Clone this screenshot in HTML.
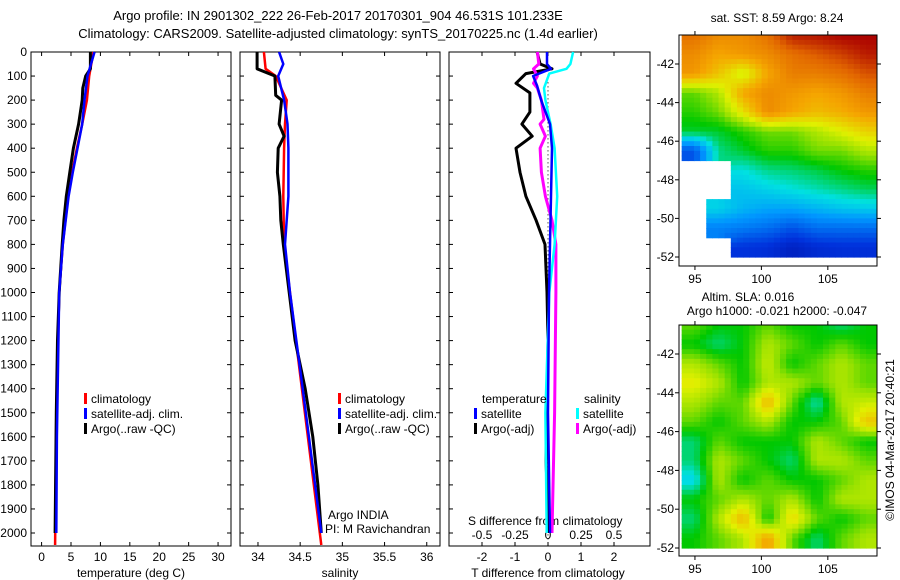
<!DOCTYPE html>
<html><head><meta charset="utf-8"><style>
html,body{margin:0;padding:0;background:#fff;}
svg{display:block;font-family:"Liberation Sans",sans-serif;}
</style></head><body>
<svg id="fig" width="900" height="580" viewBox="0 0 900 580">
<text x="338" y="20" font-size="13" text-anchor="middle">Argo profile: IN 2901302_222 26-Feb-2017 20170301_904 46.531S 101.233E</text>
<text x="338" y="38" font-size="13" text-anchor="middle">Climatology: CARS2009. Satellite-adjusted climatology: synTS_20170225.nc (1.4d earlier)</text>
</svg>
<script>
// ---- data ----
const depthTicks=[0,100,200,300,400,500,600,700,800,900,1000,1100,1200,1300,1400,1500,1600,1700,1800,1900,2000];
const tempTicks=[0,5,10,15,20,25,30];
const salTicks=[34,34.5,35,35.5,36];
const tdiffTicks=[-2,-1,0,1,2];
const sdiffTicks=[-0.5,-0.25,0,0.25,0.5];
const sdiffTickLabels=["-0.5","-0.25","0","0.25","0.5"];
const tempArgoDepth=[0,70,100,150,200,300,400,500,600,700,800,1000,1200,1500,2000];
const tempArgo=[8.3,8.3,7.5,7.0,6.9,6.3,5.4,4.8,4.2,3.8,3.5,3.0,2.7,2.5,2.3];
const tempClimDepth=[0,100,200,300,400,500,600,800,1000,1500,2050];
const tempClim=[8.8,8.1,7.7,6.9,6.0,5.2,4.5,3.6,3.0,2.5,2.3];
const tempSatDepth=[0,100,200,300,400,500,600,800,1000,1600,2000];
const tempSat=[9.0,7.8,7.3,6.9,6.1,5.3,4.6,3.6,3.0,2.6,2.5];
const salArgoDepth=[0,70,100,180,200,300,350,400,500,600,700,800,1000,1200,1400,1600,1800,2000];
const salArgo=[33.99,33.99,34.2,34.21,34.28,34.25,34.31,34.24,34.23,34.26,34.27,34.3,34.37,34.44,34.56,34.65,34.71,34.75];
const salClimDepth=[0,70,100,200,300,400,600,800,1000,1400,2050];
const salClim=[34.07,34.09,34.21,34.34,34.32,34.31,34.3,34.31,34.38,34.52,34.75];
const salSatDepth=[0,50,100,200,300,400,600,800,1000,1400,2000];
const salSat=[34.25,34.3,34.24,34.31,34.35,34.36,34.36,34.32,34.38,34.53,34.75];
const tdArgoDepth=[0,50,70,90,130,170,250,300,350,400,500,600,700,800,900,1000,1200,1700,2000];
const tdArgo=[-0.33,-0.24,0.12,-0.67,-0.97,-0.55,-0.55,-0.79,-0.48,-0.97,-0.85,-0.67,-0.36,-0.09,-0.06,-0.03,0,-0.06,0.03];
const tdSatDepth=[0,50,70,100,140,200,300,400,600,800,1000,1500,2000];
const tdSat=[-0.03,-0.03,0.09,-0.45,-0.33,-0.21,0.06,0.12,0.09,0.06,0.03,0,0.06];
const sdArgoDepth=[0,50,70,100,130,150,200,280,300,350,400,500,600,700,800,1000,1500,2000];
const sdArgo=[-0.08,-0.07,-0.11,-0.08,-0.11,-0.08,-0.05,-0.03,-0.06,-0.02,-0.06,-0.05,-0.02,0.03,0.06,0.06,0.05,0.03];
const sdSatDepth=[0,50,70,90,150,200,300,400,600,800,1000,1500,2000];
const sdSat=[0.19,0.17,0.14,0.01,-0.03,-0.02,0.02,0.05,0.07,0.05,0.01,-0.02,-0.01];
const mapLon=[94.0,95.85,97.7,99.55,101.4,103.25,105.1,106.95];
const mapLat=[-40.5,-41.5,-42.5,-43.5,-44.5,-45.5,-46.5,-47.5,-48.5,-49.5,-50.5,-51.5];
const sstGrid=[
[0.82,0.78,0.78,0.82,0.92,0.93,0.95,0.95],
[0.78,0.74,0.76,0.78,0.82,0.85,0.88,0.92],
[0.76,0.7,0.62,0.74,0.8,0.8,0.82,0.86],
[0.55,0.6,0.74,0.78,0.76,0.74,0.76,0.8],
[0.52,0.56,0.66,0.78,0.74,0.71,0.73,0.76],
[0.48,0.48,0.52,0.56,0.56,0.6,0.64,0.68],
[0.2,0.44,0.48,0.52,0.52,0.56,0.56,0.6],
[null,null,0.4,0.44,0.45,0.47,0.5,0.52],
[null,null,0.36,0.38,0.4,0.42,0.44,0.46],
[null,0.38,0.34,0.32,0.32,0.34,0.36,0.37],
[null,0.27,0.26,0.24,0.2,0.24,0.24,0.24],
[null,null,0.15,0.14,0.1,0.13,0.14,0.14]];
const slaGrid=[
[0.55,0.5,0.5,0.55,0.5,0.5,0.45,0.5],
[0.5,0.45,0.5,0.6,0.55,0.5,0.55,0.5],
[0.6,0.55,0.5,0.62,0.5,0.55,0.6,0.55],
[0.65,0.6,0.5,0.6,0.6,0.55,0.6,0.55],
[0.6,0.55,0.55,0.72,0.55,0.42,0.6,0.62],
[0.55,0.5,0.55,0.6,0.5,0.5,0.55,0.7],
[0.45,0.55,0.5,0.5,0.5,0.6,0.55,0.5],
[0.45,0.6,0.55,0.5,0.45,0.6,0.6,0.55],
[0.38,0.6,0.5,0.55,0.5,0.5,0.55,0.6],
[0.5,0.55,0.6,0.55,0.6,0.5,0.6,0.6],
[0.45,0.6,0.72,0.5,0.68,0.55,0.5,0.55],
[0.5,0.55,0.6,0.75,0.55,0.45,0.55,0.6]];
const lonTicks=[95,100,105];
const latTicks=[-42,-44,-46,-48,-50,-52];

// ---- helpers ----
const NS="http://www.w3.org/2000/svg";
const svg=document.getElementById('fig');
function mk(tag,attrs,parent){const e=document.createElementNS(NS,tag);for(const k in attrs)e.setAttribute(k,attrs[k]);(parent||svg).appendChild(e);return e;}
const yD=d=>52+d*0.2405;
const P1={x0:31,x1:231,lo:-1.8,hi:32.2};
const P2={x0:240,x1:440,lo:33.787,hi:36.157};
const P3={x0:449,x1:650};
const xT=v=>P1.x0+(v-P1.lo)*(P1.x1-P1.x0)/(P1.hi-P1.lo);
const xS=v=>P2.x0+(v-P2.lo)*(P2.x1-P2.x0)/(P2.hi-P2.lo);
const xTD=v=>548+v*33;
const xSD=v=>548+v*132;
const yBot=546;

function frame(x0,x1,name){
  const r=mk('rect',{x:x0,y:52,width:x1-x0,height:yBot-52,fill:'none',stroke:'#000','stroke-width':1});
  
  
  depthTicks.forEach(d=>{
    mk('line',{x1:x0,x2:x0+4,y1:yD(d),y2:yD(d),stroke:'#000'});
    mk('line',{x1:x1,x2:x1-4,y1:yD(d),y2:yD(d),stroke:'#000'});
  });
}
frame(P1.x0,P1.x1,'temperature-panel');
frame(P2.x0,P2.x1,'salinity-panel');
frame(P3.x0,P3.x1,'difference-panel');

depthTicks.forEach(d=>{
  const t=mk('text',{x:27,y:yD(d)+4,'font-size':12,'text-anchor':'end'});
  t.textContent=d;
  
  
});
function xticks(ticks,labels,fx,y,name,top){
  ticks.forEach((v,i)=>{
    const x=fx(v);
    mk('line',{x1:x,x2:x,y1:yBot,y2:yBot-4,stroke:'#000'});
    if(top)mk('line',{x1:x,x2:x,y1:52,y2:56,stroke:'#000'});
    const t=mk('text',{x:x,y:y,'font-size':12,'text-anchor':'middle'});
    t.textContent=labels?labels[i]:v;
    
    
  });
}
xticks(tempTicks,null,xT,561,'temperature-tick-label',true);
xticks(salTicks,null,xS,561,'salinity-tick-label',true);
xticks(tdiffTicks,null,xTD,561,'t-diff-tick-label',true);
sdiffTicks.forEach((v,i)=>{
  const t=mk('text',{x:xSD(v),y:539,'font-size':12,'text-anchor':'middle'});
  t.textContent=sdiffTickLabels[i];
  
  
});
function label(x,y,txt,name,anchor,size){
  const t=mk('text',{x:x,y:y,'font-size':size||12,'text-anchor':anchor||'start'});
  t.textContent=txt;
  
  
  return t;
}
label(131,577,'temperature (deg C)','x-axis-title-temperature','middle');
label(340,577,'salinity','x-axis-title-salinity','middle');
label(548,577,'T difference from climatology','x-axis-title-t-diff','middle');
label(468,525,'S difference from climatology','s-diff-axis-title');
label(328,519,'Argo INDIA','argo-india-label');
label(325,533,'PI: M Ravichandran','pi-label');

mk('line',{x1:548,x2:548,y1:yD(60),y2:yD(2040),stroke:'#000','stroke-dasharray':'1,3'});

function series(depths,vals,fx,color,w,name){
  const pts=depths.map((d,i)=>fx(vals[i]).toFixed(1)+','+yD(d).toFixed(1)).join(' ');
  const p=mk('polyline',{points:pts,fill:'none',stroke:color,'stroke-width':w,'stroke-linejoin':'round'});
  
  
}
series(tempClimDepth,tempClim,xT,'#f00',2.5,'temp-climatology-line');
series(tempArgoDepth,tempArgo,xT,'#000',3,'temp-argo-line');
series(tempSatDepth,tempSat,xT,'#00f',2.5,'temp-satellite-line');
series(salClimDepth,salClim,xS,'#f00',2.5,'sal-climatology-line');
series(salArgoDepth,salArgo,xS,'#000',3,'sal-argo-line');
series(salSatDepth,salSat,xS,'#00f',2.5,'sal-satellite-line');
series(tdArgoDepth,tdArgo,xTD,'#000',3,'t-diff-argo-line');
series(sdArgoDepth,sdArgo,xSD,'#f0f',3,'s-diff-argo-line');
series(sdSatDepth,sdSat,xSD,'#0ff',2.5,'s-diff-satellite-line');
series(tdSatDepth,tdSat,xTD,'#00f',2.5,'t-diff-satellite-line');

function legend(x,y,color,txt,name){
  mk('rect',{x:x,y:y-10,width:3,height:11,fill:color});
  label(x+7,y,txt,name);
}
legend(84,403,'#f00','climatology','legend-temp-climatology');
legend(84,418,'#00f','satellite-adj. clim.','legend-temp-satellite');
legend(84,433,'#000','Argo(..raw -QC)','legend-temp-argo');
legend(338,403,'#f00','climatology','legend-sal-climatology');
legend(338,418,'#00f','satellite-adj. clim.','legend-sal-satellite');
legend(338,433,'#000','Argo(..raw -QC)','legend-sal-argo');
label(482,403,'temperature','legend-temperature-header');
label(584,403,'salinity','legend-salinity-header');
legend(474,418,'#00f','satellite','legend-t-diff-satellite');
legend(474,433,'#000','Argo(-adj)','legend-t-diff-argo');
legend(576,418,'#0ff','satellite','legend-s-diff-satellite');
legend(576,433,'#f0f','Argo(-adj)','legend-s-diff-argo');

// ---- maps ----
const cmapStops=[[0,[0,0,140]],[0.15,[0,50,220]],[0.3,[0,150,255]],[0.4,[0,225,225]],[0.5,[0,200,0]],[0.58,[150,225,0]],[0.64,[225,240,0]],[0.74,[245,165,0]],[0.84,[225,100,0]],[0.95,[170,0,0]],[1,[150,0,0]]];
function cmap(v){
  v=Math.max(0,Math.min(1,v));
  for(let i=1;i<cmapStops.length;i++){
    if(v<=cmapStops[i][0]){
      const a=cmapStops[i-1],b=cmapStops[i],t=(v-a[0])/(b[0]-a[0]);
      const c=a[1].map((x,k)=>Math.round(x+(b[1][k]-x)*t));
      return 'rgb('+c.join(',')+')';
    }
  }
  return 'rgb(150,0,0)';
}
function sample(grid,fi,fj){
  const R=grid.length,C=grid[0].length;
  fi=Math.max(0,Math.min(R-1,fi));fj=Math.max(0,Math.min(C-1,fj));
  const i0=Math.floor(fi),j0=Math.floor(fj),i1=Math.min(R-1,i0+1),j1=Math.min(C-1,j0+1);
  const ti=fi-i0,tj=fj-j0;
  const near=grid[Math.round(fi)][Math.round(fj)];
  if(near===null)return null;
  const vals=[[grid[i0][j0],(1-ti)*(1-tj)],[grid[i0][j1],(1-ti)*tj],[grid[i1][j0],ti*(1-tj)],[grid[i1][j1],ti*tj]];
  let s=0,w=0;vals.forEach(([v,ww])=>{if(v!==null){s+=v*ww;w+=ww;}});
  return w>0?s/w:null;
}
function map(y0,y1,latAt42,latAt52,grid,name){
  const mx0=679,mx1=877;
  const lonX=v=>mx0+(v-93.8)*(mx1-mx0)/(108.7-93.8);
  const pxLat=(latAt52-latAt42)/10;
  const latY=v=>latAt42+(-42-v)*pxLat;
  const g=mk('g',{});
  
  
  const dLon=1.85,sub=4;
  grid.forEach((row,i)=>row.forEach((v,j)=>{
    for(let a=0;a<sub;a++)for(let b=0;b<sub;b++){
      const fi=i-0.5+(a+0.5)/sub, fj=j-0.5+(b+0.5)/sub;
      const val=sample(grid,fi,fj);
      if(val===null)continue;
      const lonA=mapLon[j]+dLon*b/sub, latA=mapLat[i]+0.5-a/sub;
      const xa=Math.max(mx0,lonX(lonA)),xb=Math.min(mx1,lonX(lonA+dLon/sub)+0.6);
      const ya=Math.max(y0,latY(latA)),yb=Math.min(y1,latY(latA-1/sub)+0.6);
      if(xb<=xa||yb<=ya)continue;
      const c=mk('rect',{x:xa,y:ya,width:xb-xa,height:yb-ya,fill:cmap(val)},g);
      
      
    }
  }));
  mk('rect',{x:mx0,y:y0,width:mx1-mx0,height:y1-y0,fill:'none',stroke:'#000'});
  lonTicks.forEach(v=>{
    const x=lonX(v);
    mk('line',{x1:x,x2:x,y1:y1,y2:y1+4,stroke:'#000'});
    mk('line',{x1:x,x2:x,y1:y0,y2:y0-4,stroke:'#000'});
    label(x,y1+17,String(v),'map-lon-tick-label','middle');
  });
  latTicks.forEach(v=>{
    const y=latY(v);
    mk('line',{x1:mx0,x2:mx0-4,y1:y,y2:y,stroke:'#000'});
    mk('line',{x1:mx1,x2:mx1+4,y1:y,y2:y,stroke:'#000'});
    label(674,y+4,String(v),'map-lat-tick-label','end');
  });
}
map(35,266,64,257,sstGrid,'sst-map');
map(325,556,354,548,slaGrid,'sla-map');
label(777,22,'sat. SST: 8.59 Argo: 8.24','sst-map-title','middle');
label(748,301,'Altim. SLA: 0.016','sla-map-title','middle');
label(777,315,'Argo h1000: -0.021 h2000: -0.047','sla-map-subtitle','middle');
const cr=label(0,0,'©IMOS 04-Mar-2017 20:40:21','imos-credit','middle');
cr.setAttribute('transform','translate(894,440) rotate(-90)');
</script>
</body></html>
